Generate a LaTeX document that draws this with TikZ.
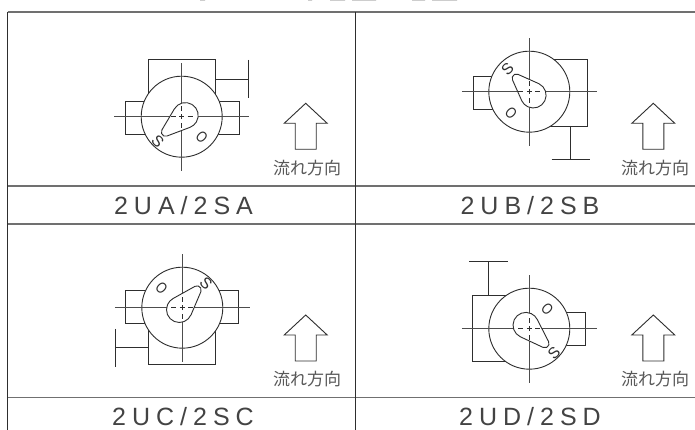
\documentclass[tikz,border=0pt]{standalone}
\usepackage{fontspec}
\setmainfont{Liberation Sans}
\newfontfamily\labfont[LetterSpace=24]{Liberation Sans}
\newfontfamily\cjkfont{Noto Sans CJK JP}
\definecolor{ink}{HTML}{2E2E2E}
\definecolor{rule}{HTML}{707070}
\tikzset{
  x=1pt,y=1pt,
  grid h/.style={draw=rule,line width=1.4pt},
  grid v/.style={draw=ink,line width=1.1pt},
  part/.style={draw=ink,line width=0.9pt},
  axis line/.style={draw=ink!85,line width=1pt},
  model/.style={font=\labfont\fontsize{25}{26}\selectfont,text=ink!90,inner sep=0pt,anchor=center},
  flow/.style={font=\cjkfont\fontsize{17}{18}\selectfont,text=ink!80,inner sep=0pt,anchor=center},
  mark s/.style={font=\fontsize{15.5}{15.5}\selectfont,text=ink,inner sep=0pt,anchor=center},
}
% #1 centre x, #2 centre y, #3 tear big-end dx, #4 dy, #5 axis angle, #6 tear length
\newcommand{\bodydisc}[6]{%
  \fill[white] (#1,#2) circle[radius=40.5pt];
  \draw[part] (#1,#2) circle[radius=40.5pt];
  \draw[axis line] (#1,#2-54) -- (#1,#2+54) (#1-67.5,#2) -- (#1+67.5,#2);
  \begin{scope}[shift={(#1+#3,#2+#4)},rotate=#5]
    \filldraw[part,fill=white] (#6,0)++(71:4.2pt) arc[start angle=71,end angle=-71,radius=4.2pt]
      -- (-71:12.8pt) arc[start angle=-71,end angle=-289,radius=12.8pt] -- cycle;
  \end{scope}
  \draw[part,line width=0.7pt] (#1-2.5,#2) -- (#1+2.5,#2) (#1,#2-2.5) -- (#1,#2+2.5)
    (#1-11,#2) -- (#1-6,#2) (#1+6,#2) -- (#1+11,#2)
    (#1,#2-11) -- (#1,#2-6) (#1,#2+6) -- (#1,#2+11);
}
% #1 tip x, #2 tip y, #3 bottom y offset
\newcommand{\flowarrow}[3]{%
  \draw[part] (#1,#2) -- (#1+21.5,#2-20) -- (#1+10.5,#2-20) -- (#1+10.5,#2-#3)
    -- (#1-10.5,#2-#3) -- (#1-10.5,#2-20) -- (#1-21.5,#2-20) -- cycle;
}
\begin{document}
\begin{tikzpicture}
\useasboundingbox (0,0) rectangle (695,430);
\fill[white] (0,0) rectangle (695,430);
% clipped text remnants at the top edge
\fill[rule!35] (200,429) rectangle (205,430) (308,429) rectangle (312,430)
  (330,429) rectangle (345,430) (352,429) rectangle (376,430)
  (412,429) rectangle (425,430) (432,429) rectangle (457,430);
% grid
\draw[grid h] (7.5,418) -- (695,418) (7.5,244) -- (695,244)
              (7.5,206) -- (695,206) (7.5,32.3) -- (695,32.3);
\draw[grid v] (7.5,418) -- (7.5,0) (355.3,418) -- (355.3,0);

% ---- 2UA/2SA
\draw[part] (148.7,313) rectangle (215.7,370.7);
\draw[part] (215.7,351) -- (248.7,351) (248.7,370) -- (248.7,332.3);
\draw[part] (125,329) rectangle (239.7,296);
\bodydisc{181.7}{313.3}{3.7}{1.3}{220}{26}
\node[mark s,rotate=-45] (sa) at (157.7,288.3) {S};
\node[mark s,rotate=-45,xscale=.8] (oa) at (201.7,292.6) {O};
\flowarrow{305.7}{326.7}{46}
\node[flow] (fa) at (307,262.3) {流れ方向};
\node[model] (ma) at (183.5,224.3) {2UA/2SA};

% ---- 2UB/2SB
\draw[part] (529,370.7) rectangle (587.7,304);
\draw[part] (570.3,304) -- (570.3,270.7) (551.7,270.7) -- (590,270.7);
\draw[part] (473.3,353.3) rectangle (529,320.7);
\bodydisc{529.3}{338.3}{4}{-3.5}{135}{24}
\node[mark s,rotate=45] (sb) at (507.6,361) {S};
\node[mark s,rotate=-45,xscale=.8] (ob) at (511,316.6) {O};
\flowarrow{653.3}{326.7}{46}
\node[flow] (fb) at (655,262.3) {流れ方向};
\node[model] (mb) at (530,224.3) {2UB/2SB};

% ---- 2UC/2SC
\draw[part] (148.3,122.3) rectangle (215.7,66);
\draw[part] (148.3,82.3) -- (115,82.3) (115,101) -- (115,63.3);
\draw[part] (125.3,139.7) rectangle (238.7,106.7);
\bodydisc{182.3}{122.3}{-3}{-2}{48}{26.5}
\node[mark s,rotate=-45] (sc) at (206,146.6) {S};
\node[mark s,rotate=-45,xscale=.8] (oc) at (161.6,142.3) {O};
\flowarrow{305.7}{115}{46}
\node[flow] (fc) at (307,51) {流れ方向};
\node[model] (mc) at (183,13.3) {2UC/2SC};

% ---- 2UD/2SD
\draw[part] (472,135) rectangle (529,68.3);
\draw[part] (488.7,135) -- (488.7,168.3) (469.3,168.3) -- (507.7,168.3);
\draw[part] (529,117.7) rectangle (585.7,85);
\bodydisc{529.3}{101.3}{-3.5}{3.5}{-44}{26.5}
\node[mark s,rotate=45] (sd) at (554,77.3) {S};
\node[mark s,rotate=-45,xscale=.8] (od) at (547.3,121.3) {O};
\flowarrow{653.3}{115}{46}
\node[flow] (fd) at (655,51) {流れ方向};
\node[model] (md) at (530,13.3) {2UD/2SD};
\end{tikzpicture}
\end{document}
